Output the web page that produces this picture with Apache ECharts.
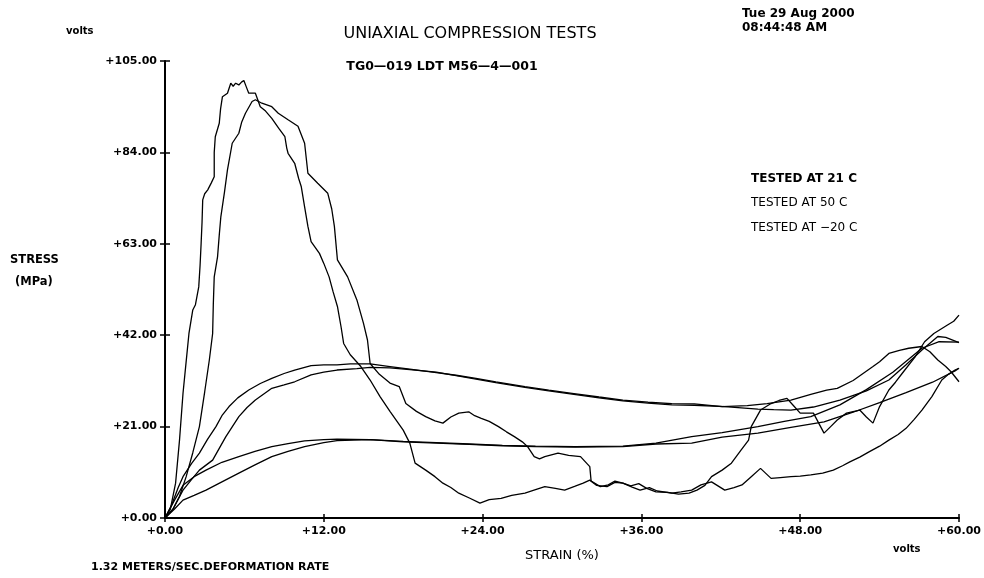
<!DOCTYPE html>
<html>
<head>
<meta charset="utf-8">
<script src="https://cdn.jsdelivr.net/npm/echarts@6/dist/echarts.min.js"></script>
<style>
html,body{margin:0;padding:0;background:#fff;}
#chart{width:984px;height:578px;}
</style>
</head>
<body>
<div id="chart"></div>
<script>
// ---- tick labels ----
var xTickLabels = ['+0.00', '+12.00', '+24.00', '+36.00', '+48.00', '+60.00'];
var yTickLabels = ['+0.00', '+21.00', '+42.00', '+63.00', '+84.00', '+105.00'];

// ---- legend entries ----
var legendNames = ['TESTED AT 21 C', 'TESTED AT 50 C', 'TESTED AT \u221220 C'];

// ---- series values: [strain %, stress MPa] ----
var curveA = [[0,0],[0.4,2],[0.8,8],[1.1,18],[1.36,28.6],[1.6,36],[1.81,42.4],[2.1,47.8],[2.3,49],[2.55,53.1],[2.65,58],[2.73,63.1],[2.8,68],[2.85,73.1],[3.0,74.5],[3.23,75.4],[3.5,77],[3.72,78.4],[3.72,84],[3.8,87.6],[4.1,90.7],[4.2,94],[4.34,96.8],[4.72,97.6],[4.97,99.9],[5.15,99.2],[5.34,99.9],[5.58,99.5],[5.8,100.2],[5.96,100.5],[6.15,99],[6.33,97.6],[6.83,97.6],[7.2,94.5],[7.6,93.5],[8.07,91.8],[8.6,89.5],[9.06,87.6],[9.2,85],[9.3,83.8],[9.8,81.5],[10.1,78],[10.3,76.1],[10.55,71.5],[10.8,67],[11.04,63.5],[11.67,60.8],[12.0,58.5],[12.4,55.4],[12.7,52],[13.03,48.6],[13.3,44],[13.5,40.1],[14.0,37.5],[14.8,34.8],[15.5,31.7],[16.25,27.9],[17.0,24.5],[18.0,20.2],[18.5,17.2],[18.9,12.6],[19.7,11.0],[20.4,9.5],[21.0,8.0],[21.6,7.0],[22.2,5.7],[23.0,4.6],[23.8,3.4],[24.5,4.2],[25.4,4.5],[26.2,5.2],[27.2,5.7],[28.0,6.5],[28.7,7.2],[29.5,6.8],[30.2,6.4],[31.0,7.3],[31.6,8.0],[32.1,8.7],[32.6,7.5],[33.4,7.2],[34.0,8.2],[34.6,8.0],[35.3,7.1],[35.9,6.4],[36.6,7.0],[37.2,6.2],[38.3,5.7],[39.0,6.0],[39.8,6.4],[40.5,7.6],[41.3,8.3],[42.3,6.4],[43.0,7.0],[43.6,7.6],[44.3,9.5],[45.0,11.4],[45.8,9.1],[46.5,9.3],[47.3,9.5],[48.0,9.6],[48.8,9.9],[49.7,10.3],[50.5,11.0],[51.2,12.0],[51.75,12.9],[52.5,14.0],[53.2,15.2],[54.0,16.5],[54.7,17.9],[55.4,19.2],[56.0,20.6],[56.6,22.6],[57.2,24.8],[57.95,27.9],[58.7,31.7],[59.2,33.0],[59.7,34.0],[60,34.4]];

var curveB = [[0,0],[0.6,2],[1.1,5],[1.6,9.5],[2.1,15],[2.6,21],[3.0,29],[3.35,36.3],[3.6,42.4],[3.65,49],[3.72,55.4],[3.97,60],[4.1,65],[4.22,69.2],[4.5,75],[4.72,80],[5.08,86.1],[5.58,88.4],[5.8,91],[6.08,93],[6.58,95.7],[6.83,96.1],[7.32,95.3],[8.07,94.5],[8.56,93],[9.3,91.5],[10.05,90],[10.55,86.1],[10.8,79.2],[11.54,76.9],[12.3,74.6],[12.6,71],[12.8,67],[13.03,59.3],[13.8,55.4],[14.5,50.1],[15.0,44.7],[15.3,40.9],[15.5,35.5],[16.2,33],[17.0,31],[17.7,30.2],[18.2,26.3],[19.0,24.5],[19.7,23.3],[20.4,22.3],[21.0,21.8],[21.6,23.2],[22.2,24.1],[22.95,24.4],[23.4,23.5],[23.9,22.9],[24.5,22.2],[25.2,21.0],[25.8,19.8],[26.4,18.7],[27.0,17.5],[27.4,16.4],[27.9,14.1],[28.3,13.6],[28.7,14.1],[29.2,14.5],[29.7,14.9],[30.5,14.4],[31.4,14.1],[32.1,11.8],[32.2,8.5],[32.9,7.2],[33.5,7.6],[34.0,8.5],[34.6,8.0],[35.2,7.4],[35.8,7.9],[36.4,6.8],[37.1,6.0],[38.0,5.9],[38.8,5.5],[39.6,5.7],[40.2,6.4],[40.8,7.5],[41.3,9.5],[42.1,11.0],[42.8,12.6],[43.5,15.5],[44.1,17.9],[44.3,21.0],[45.0,24.8],[45.8,26.3],[46.4,27.0],[47.0,27.5],[47.5,25.8],[48.0,24.1],[49.0,24.1],[49.8,19.5],[50.3,21.0],[50.8,22.5],[51.5,24.1],[52.5,24.8],[53.0,23.2],[53.5,21.8],[54.0,25.6],[54.7,29.4],[55.2,31.2],[55.7,33.2],[56.7,37.1],[57.4,40.5],[58.1,42.4],[59.1,44.3],[59.6,45.2],[60,46.6]];

var curveC = [[0,0],[0.5,3],[1.0,7],[1.36,9.5],[2.0,12.5],[2.6,14.9],[3.2,18],[3.85,21.0],[4.3,23.5],[4.84,25.6],[5.5,27.6],[6.33,29.4],[7.2,30.9],[8.07,32.1],[9.0,33.2],[9.8,34.0],[11.04,35.0],[12.0,35.2],[13.0,35.2],[14.0,35.4],[15.5,35.4],[17.0,34.8],[18.5,34.2],[20.5,33.4],[22.0,32.8],[23.5,32.1],[25.0,31.3],[27.2,30.2],[29.0,29.4],[30.9,28.6],[32.8,27.8],[34.6,27.1],[36.5,26.6],[38.3,26.3],[40.0,26.2],[42.1,25.6],[44.0,25.8],[45.5,26.3],[47.3,27.1],[48.8,28.4],[50.0,29.4],[50.8,29.8],[52.0,31.6],[53.5,34.8],[54.0,35.9],[54.7,37.8],[55.5,38.5],[56.2,39.0],[57.2,39.4],[57.8,38.2],[58.4,36.3],[59.0,34.8],[59.4,33.6],[60,31.3]];

var curveD = [[0,0],[0.6,2],[1.36,6.4],[2.0,8.8],[2.6,11.0],[3.6,13.3],[4.1,16],[4.6,18.7],[5.58,23.3],[6.2,25.4],[6.83,27.1],[8.07,29.8],[9.0,30.6],[9.8,31.3],[11.04,32.9],[12.0,33.5],[13.0,34.0],[14.5,34.3],[15.5,34.6],[17.0,34.5],[18.5,34.1],[20.5,33.5],[22.0,32.7],[23.5,31.9],[25.0,31.1],[27.2,30.0],[29.0,29.2],[30.9,28.4],[32.8,27.6],[34.6,26.9],[36.5,26.4],[38.3,26.0],[40.0,25.9],[42.3,25.6],[44.8,25.0],[46.0,24.9],[47.3,24.8],[49.0,25.5],[51.0,27.1],[53.0,29.2],[54.7,31.7],[56.0,35.2],[57.2,38.6],[58.4,41.7],[59.0,41.5],[60,40.3]];

var curveE = [[0,0],[0.7,4],[1.36,7.5],[2.2,9.5],[3.1,11.0],[4.3,12.8],[5.58,14.1],[6.8,15.3],[8.07,16.4],[9.3,17.1],[10.55,17.7],[12.0,18.0],[13.0,18.1],[15.5,18.0],[18.0,17.6],[20.5,17.3],[23.0,17.0],[25.5,16.7],[28.0,16.5],[31.0,16.4],[34.6,16.5],[37.1,17.2],[39.8,18.7],[42.1,19.6],[44.8,21.0],[46.8,22.2],[48.8,23.3],[51.0,26.0],[53.0,29.5],[55.0,33.5],[57.2,39.0],[58.5,40.5],[60,40.4]];

var curveF = [[0,0],[0.7,2],[1.36,4.1],[2.2,5.2],[3.1,6.4],[4.3,8.3],[5.58,10.3],[6.8,12.2],[8.07,14.1],[9.3,15.3],[10.55,16.4],[12.0,17.3],[13.0,17.8],[15.5,18.0],[18.0,17.5],[20.5,17.2],[23.0,16.9],[25.5,16.6],[28.0,16.4],[31.0,16.3],[34.6,16.4],[37.1,17.0],[39.8,17.2],[42.1,18.6],[44.8,19.5],[47.3,20.8],[49.8,22.1],[52.0,24.3],[54.0,26.5],[56.0,28.8],[58.0,31.2],[59.7,33.8],[60,34.4]];

var chart = echarts.init(document.getElementById('chart'), null, {renderer: 'canvas'});
var FONT = 'DejaVu Sans';

function mkLine(name, data) {
  return {
    name: name, type: 'line', data: data, xAxisIndex: 0, yAxisIndex: 0,
    showSymbol: false, symbol: 'none', smooth: false, animation: false,
    lineStyle: {color: '#000', width: 1.3},
    itemStyle: {color: '#000'}
  };
}

var baseX = {type: 'value', min: 0, max: 60, interval: 12, gridIndex: 0};
var baseY = {type: 'value', min: 0, max: 105, interval: 21, gridIndex: 0};

var option = {
  backgroundColor: '#fff',
  animation: false,
  title: [
    {text: 'UNIAXIAL COMPRESSION TESTS', left: 465, top: 21, textAlign: 'center',
     textStyle: {fontFamily: FONT, fontSize: 16, fontWeight: 'normal', color: '#000'}},
    {text: 'TG0\u2014019 LDT M56\u20144\u2014001', left: 437, top: 55, textAlign: 'center',
     textStyle: {fontFamily: FONT, fontSize: 12.5, fontWeight: 'bold', color: '#000'}}
  ],
  legend: {
    orient: 'vertical', left: 741, top: 166, itemGap: 11, itemHeight: 15, itemWidth: 0,
    icon: 'none', selectedMode: false,
    data: [
      {name: legendNames[0], textStyle: {fontWeight: 'bold'}},
      {name: legendNames[1]},
      {name: legendNames[2]}
    ],
    textStyle: {fontFamily: FONT, fontSize: 12, color: '#000'}
  },
  grid: {left: 165, right: 13, top: 61, bottom: 60, containLabel: false},
  xAxis: [
    Object.assign({}, baseX, {
      position: 'bottom',
      name: 'STRAIN (%)', nameLocation: 'middle', nameGap: 31,
      nameTextStyle: {fontFamily: FONT, fontSize: 13, color: '#000'},
      axisLine: {show: true, onZero: false, lineStyle: {color: '#000', width: 2}},
      axisTick: {show: true, inside: false, length: 4, lineStyle: {color: '#000', width: 1.5}},
      axisLabel: {show: true, margin: 8, color: '#000', fontFamily: FONT, fontSize: 11, fontWeight: 'bold',
        formatter: function (v) { return xTickLabels[Math.round(v / 12)]; }},
      splitLine: {show: false}
    }),
    Object.assign({}, baseX, {
      position: 'bottom',
      axisLine: {show: false},
      axisTick: {show: true, inside: true, length: 4, lineStyle: {color: '#000', width: 1.5}},
      axisLabel: {show: false},
      splitLine: {show: false}
    })
  ],
  yAxis: [
    Object.assign({}, baseY, {
      position: 'left',
      axisLine: {show: true, onZero: false, lineStyle: {color: '#000', width: 2}},
      axisTick: {show: true, inside: false, length: 5, lineStyle: {color: '#000', width: 1.5}},
      axisLabel: {show: true, margin: 8, color: '#000', fontFamily: FONT, fontSize: 11, fontWeight: 'bold',
        formatter: function (v) { return yTickLabels[Math.round(v / 21)]; }},
      splitLine: {show: false}
    }),
    Object.assign({}, baseY, {
      position: 'left',
      axisLine: {show: false},
      axisTick: {show: true, inside: true, length: 5, lineStyle: {color: '#000', width: 1.5}},
      axisLabel: {show: false},
      splitLine: {show: false}
    })
  ],
  graphic: [
    {type: 'text', left: 66, top: 26, style: {text: 'volts', font: 'bold 10px "DejaVu Sans"', fill: '#000'}},
    {type: 'text', left: 893, top: 544, style: {text: 'volts', font: 'bold 10px "DejaVu Sans"', fill: '#000'}},
    {type: 'text', left: 742, top: 8, style: {text: 'Tue 29 Aug 2000', font: 'bold 12px "DejaVu Sans"', fill: '#000'}},
    {type: 'text', left: 742, top: 22, style: {text: '08:44:48 AM', font: 'bold 12px "DejaVu Sans"', fill: '#000'}},
    {type: 'text', left: 10, top: 254, style: {text: 'STRESS', font: 'bold 11.5px "DejaVu Sans"', fill: '#000'}},
    {type: 'text', left: 15, top: 276, style: {text: '(MPa)', font: 'bold 11.5px "DejaVu Sans"', fill: '#000'}},
    {type: 'text', left: 91, top: 562, style: {text: '1.32 METERS/SEC.DEFORMATION RATE', font: 'bold 11px "DejaVu Sans"', fill: '#000'}}
  ],
  series: [
    mkLine(legendNames[0], curveA),
    mkLine(legendNames[0], curveC),
    mkLine(legendNames[1], curveB),
    mkLine(legendNames[1], curveD),
    mkLine(legendNames[2], curveE),
    mkLine(legendNames[2], curveF)
  ]
};
chart.setOption(option);
</script>
</body>
</html>
